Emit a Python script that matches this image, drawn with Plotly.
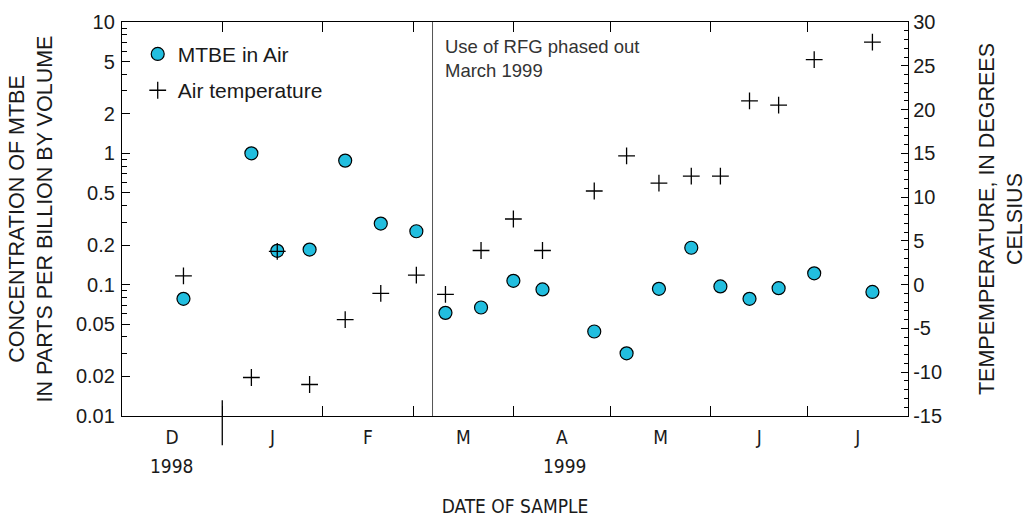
import pandas as pd
import plotly.graph_objects as go

# ---------------- data ----------------
sample_dates = ["1998-12-20", "1999-01-10", "1999-01-18", "1999-01-28", "1999-02-08",
                "1999-02-19", "1999-03-02", "1999-03-11", "1999-03-22", "1999-04-01",
                "1999-04-10", "1999-04-26", "1999-05-06", "1999-05-16", "1999-05-26",
                "1999-06-04", "1999-06-13", "1999-06-22", "1999-07-03", "1999-07-21"]
mtbe_ppbv = [0.078, 1.0, 0.181, 0.185, 0.88, 0.292, 0.255, 0.061, 0.067, 0.107,
             0.092, 0.044, 0.030, 0.093, 0.191, 0.097, 0.078, 0.094, 0.122, 0.088]
air_temp_c = [1.0, -10.6, 3.8, -11.4, -4.0, -1.0, 1.1, -1.1, 3.9, 7.5,
              3.9, 10.7, 14.7, 11.6, 12.4, 12.4, 21.0, 20.5, 25.7, 27.7]

month_starts = ["1998-12-01", "1999-01-01", "1999-02-01", "1999-03-01", "1999-04-01",
                "1999-05-01", "1999-06-01", "1999-07-01", "1999-08-01"]
month_letters = ["D", "J", "F", "M", "A", "M", "J", "J"]
conc_ticks = [0.01, 0.02, 0.05, 0.1, 0.2, 0.5, 1, 2, 5, 10]
conc_ticktext = ["0.01", "0.02", "0.05", "0.1", "0.2", "0.5", "1", "2", "5", "10"]
conc_minor = [m * 10.0 ** e for e in (-2, -1, 0) for m in (3, 4, 6, 7, 8, 9)]
temp_ticks = [-15, -10, -5, 0, 5, 10, 15, 20, 25, 30]
temp_ticktext = ["-15", "-10", "-5", "0", "5", "10", "15", "20", "25", "30"]
year_labels = ["1998", "1999"]
year_spans = [("1998-12-01", "1999-01-01"), ("1999-01-01", "1999-08-01")]
year_break = "1999-01-01"
phaseout_date = "1999-03-07"

# month label positions (middle of each month)
ms = pd.to_datetime(pd.Series(month_starts))
month_mids = [(ms[i] + (ms[i + 1] - ms[i]) / 2).strftime("%Y-%m-%d %H:%M")
              for i in range(len(ms) - 1)]
year_centers = []
for a, b in year_spans:
    ta, tb = pd.Timestamp(a), pd.Timestamp(b)
    year_centers.append((ta + (tb - ta) / 2).strftime("%Y-%m-%d %H:%M"))

FONT = "Liberation Sans, Arial, Helvetica, sans-serif"
NARROW = "Liberation Sans Narrow, Arial Narrow, DejaVu Sans Condensed, sans-serif"
TXT = "#1a1a1a"

fig = go.Figure()
fig.add_trace(go.Scatter(
    x=sample_dates, y=mtbe_ppbv, mode="markers", name="MTBE in Air",
    legendgroup="a",
    marker=dict(symbol="circle", size=13, color="#22BEDF",
                line=dict(color="black", width=1.2)),
))
fig.add_trace(go.Scatter(
    x=sample_dates, y=air_temp_c, mode="markers", name="Air temperature",
    yaxis="y2", legendgroup="b",
    marker=dict(symbol="cross-thin", size=12, color="black",
                line=dict(color="black", width=1.3)),
))
# carrier for month-label axis
fig.add_trace(go.Scatter(x=[], y=[], xaxis="x2", showlegend=False, hoverinfo="skip"))

fig.add_shape(type="line", xref="x", yref="paper", x0=year_break, x1=year_break,
              y0=-0.074, y1=0.04, line=dict(color="black", width=1.3))
fig.add_shape(type="line", xref="x", yref="paper", x0=phaseout_date, x1=phaseout_date,
              y0=0, y1=1, line=dict(color="#555555", width=1))

fig.add_annotation(x=phaseout_date, xref="x", y=1, yref="paper", xanchor="left",
                   yanchor="top", xshift=10, yshift=-12, align="left", showarrow=False,
                   text="Use of RFG phased out<br>March 1999",
                   font=dict(family=FONT, size=18.5, color="#333333"))
for lab, xc in zip(year_labels, year_centers):
    fig.add_annotation(x=xc, xref="x", y=-0.126, yref="paper", yanchor="middle",
                       showarrow=False, text=lab,
                       font=dict(family=NARROW, size=19, color=TXT))

fig.update_layout(
    width=1027, height=520,
    margin=dict(l=122, r=119, t=22, b=104, autoexpand=False),
    paper_bgcolor="white", plot_bgcolor="white",
    font=dict(family=FONT, size=18, color=TXT),
    showlegend=True,
    legend=dict(x=0.02, y=0.97, xanchor="left", yanchor="top",
                bgcolor="rgba(0,0,0,0)", font=dict(family=FONT, size=21, color=TXT),
                traceorder="grouped", tracegroupgap=6),
    xaxis=dict(type="date", range=[month_starts[0], month_starts[-1]],
               tickmode="array", tickvals=month_starts, showticklabels=False,
               ticks="inside", ticklen=10, tickwidth=1.2, tickcolor="black",
               showline=True, linecolor="black", linewidth=1.3, mirror="ticks",
               showgrid=False, zeroline=False, automargin=False),
    xaxis2=dict(type="date", overlaying="x", side="bottom", anchor="y",
                range=[month_starts[0], month_starts[-1]],
                tickmode="array", tickvals=month_mids, ticktext=month_letters,
                ticks="", showline=False, showgrid=False, zeroline=False,
                automargin=False,
                tickfont=dict(family=NARROW, size=19, color=TXT),
                ticklabelstandoff=8,
                title=dict(text="DATE OF SAMPLE", standoff=52,
                           font=dict(family=NARROW, size=19, color=TXT))),
    yaxis=dict(type="log", range=[-2, 1], tickmode="array", tickvals=conc_ticks,
               ticktext=conc_ticktext, ticks="inside", ticklen=8, tickwidth=1.2,
               tickcolor="black",
               minor=dict(tickmode="array", tickvals=conc_minor, ticks="inside",
                          ticklen=5, tickwidth=1, tickcolor="black"),
               showline=True, linecolor="black", linewidth=1.3,
               showgrid=False, zeroline=False, automargin=False,
               ticklabelstandoff=2,
               tickfont=dict(family=FONT, size=20, color=TXT),
               title=dict(text="CONCENTRATION OF MTBE<br>IN PARTS PER BILLION BY VOLUME",
                          standoff=17, font=dict(family=FONT, size=21.5, color=TXT))),
    yaxis2=dict(overlaying="y", side="right", range=[-15, 30], tickmode="array",
                tickvals=temp_ticks, ticktext=temp_ticktext,
                ticks="inside", ticklen=7, tickwidth=1.2, tickcolor="black",
                minor=dict(dtick=1, tick0=-15, ticks="inside", ticklen=4, tickwidth=1,
                           tickcolor="black"),
                showline=True, linecolor="black", linewidth=1.3,
                showgrid=False, zeroline=False, automargin=False,
                tickfont=dict(family=FONT, size=20, color=TXT),
                title=dict(text="TEMPEMPERATURE, IN DEGREES<br>CELSIUS",
                           standoff=39, font=dict(family=FONT, size=21.5, color=TXT))),
)

fig.write_html("out.html")
